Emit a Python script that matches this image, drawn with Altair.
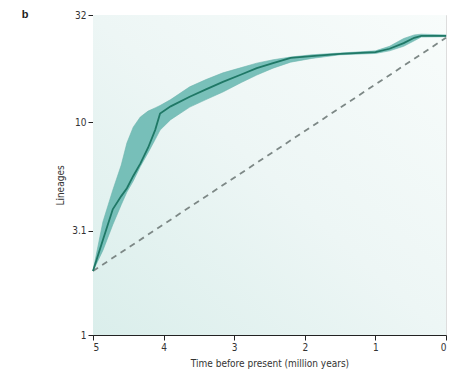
import altair as alt
import pandas as pd

# Time before present (million years)
times = [5.0, 4.86, 4.72, 4.6, 4.52, 4.43, 4.33, 4.22, 4.12, 4.05, 3.9, 3.63, 3.4, 3.16,
         2.9, 2.68, 2.45, 2.2, 1.9, 1.5, 1.0, 0.8, 0.6, 0.45, 0.35, 0.0]
median = [2.0, 2.8, 3.9, 4.5, 4.9, 5.6, 6.4, 7.6, 9.2, 11.0, 11.9, 13.2, 14.3, 15.5,
          16.8, 18.0, 19.0, 20.1, 20.5, 21.0, 21.4, 22.2, 23.6, 25.0, 25.5, 25.5]
upper = [2.0, 3.4, 4.8, 6.3, 8.0, 9.5, 10.6, 11.3, 11.7, 12.0, 12.8, 14.7, 15.9, 17.1,
         18.1, 19.0, 19.7, 20.3, 20.8, 21.2, 21.7, 22.8, 24.8, 25.8, 26.0, 25.8]
lower = [2.0, 2.5, 3.3, 4.1, 4.7, 5.3, 6.2, 7.2, 8.3, 9.2, 10.3, 11.8, 12.8, 13.9,
         15.4, 16.7, 18.0, 19.2, 20.0, 20.8, 21.1, 21.7, 22.8, 24.2, 25.2, 25.3]

null_times = [5.0, 0.0]
null_lineages = [2.0, 25.0]

y_ticks = [1, 3.1, 10, 32]
x_ticks = [5, 4, 3, 2, 1, 0]

FONT = "Liberation Sans Narrow, DejaVu Sans Condensed, Liberation Sans, sans-serif"

df = pd.DataFrame({"t": times, "m": median, "lo": lower, "hi": upper})
dnull = pd.DataFrame({"t": null_times, "n": null_lineages})

W, H = 353, 320

xs = alt.Scale(domain=[5, 0], nice=False, zero=False)
ys = alt.Scale(type="log", domain=[1, 32], nice=False)

xax = alt.Axis(values=x_ticks, title="Time before present (million years)", grid=False,
               format="d", labelFontSize=10, titleFontSize=10, titleFontWeight="normal",
               tickSize=5, labelPadding=2, titlePadding=6, domainColor="#222", tickColor="#222",
               labelColor="#333", titleColor="#333", labelFont=FONT, titleFont=FONT)
yax = alt.Axis(values=y_ticks, title="Lineages", grid=False,
               labelExpr="datum.value == 3.1 ? '3.1' : format(datum.value, 'd')",
               labelFontSize=10, titleFontSize=10, titleFontWeight="normal", tickSize=5,
               labelPadding=2, titlePadding=6, titleY=170, domainColor="#222", tickColor="#222",
               labelColor="#333", titleColor="#333", labelFont=FONT, titleFont=FONT)

bg = alt.Chart(pd.DataFrame({"a": [0]})).mark_rect(
    color=alt.Gradient(
        gradient="linear", x1=0, y1=1, x2=1, y2=0,
        stops=[alt.GradientStop(color="#daeeeb", offset=0),
               alt.GradientStop(color="#edf6f5", offset=0.5),
               alt.GradientStop(color="#f8fcfb", offset=1)]
    )
).encode(x=alt.value(0), x2=alt.value(W), y=alt.value(0), y2=alt.value(H))

band = alt.Chart(df).mark_area(color="#52aea6", opacity=0.75, stroke="#45a097", strokeWidth=0.6).encode(
    x=alt.X("t:Q", scale=xs, axis=xax),
    y=alt.Y("lo:Q", scale=ys, axis=yax),
    y2="hi:Q",
)

line = alt.Chart(df).mark_line(color="#1f7866", strokeWidth=1.8).encode(
    x=alt.X("t:Q", scale=xs),
    y=alt.Y("m:Q", scale=ys),
)

dash = alt.Chart(dnull).mark_line(color="#7d8886", strokeWidth=1.8, strokeDash=[6, 5]).encode(
    x=alt.X("t:Q", scale=xs),
    y=alt.Y("n:Q", scale=ys),
)

label = alt.Chart(pd.DataFrame({"s": ["b"]})).mark_text(
    fontWeight="bold", fontSize=11, font="Liberation Sans, sans-serif", color="#222",
    align="center", baseline="middle"
).encode(text="s:N", x=alt.value(-68), y=alt.value(0))

chart = alt.layer(bg, band, dash, line, label).properties(
    width=W, height=H,
    autosize=alt.AutoSizeParams(type="none"),
    padding={"left": 85, "top": 7, "right": 4, "bottom": 45},
).configure_view(stroke=None).configure(background="white")

chart.save("out.html", embed_options={"renderer": "svg", "actions": False})
